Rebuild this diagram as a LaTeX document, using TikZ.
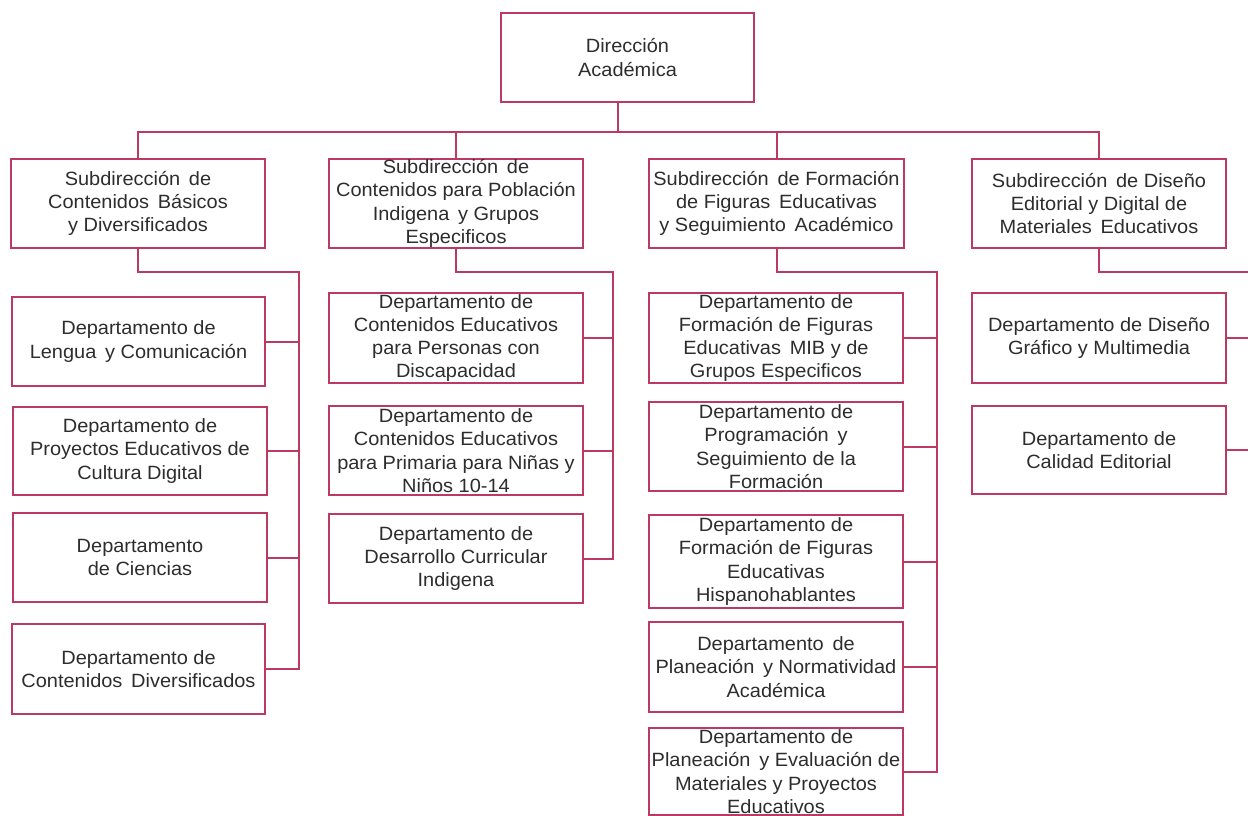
\documentclass[tikz,border=0pt]{standalone}
\usepackage{fontspec}
\setmainfont[FakeStretch=1.04]{Liberation Sans}
\definecolor{lnc}{RGB}{188,58,98}
\definecolor{txc}{RGB}{45,45,45}
\begin{document}
\begin{tikzpicture}[x=1pt,y=-1pt,
  box/.style={draw=lnc,line width=2pt,fill=white,rectangle,inner sep=0pt,
    minimum width=254pt,minimum height=89pt,align=center,text=txc,
    font=\fontsize{19.2}{23.3}\selectfont},
  conn/.style={draw=lnc,line width=2pt}]
\useasboundingbox (0,0) rectangle (1248,816);
\fill[white] (0,0) rectangle (1248,816);

% top
\node[box,minimum width=253pt] (top) at (627.5,57.5) {Dirección\\Académica};

% subdirecciones
\node[box] (s1) at (138,203.5) {Subdirección\, de\\Contenidos\, Básicos\\y Diversificados};
\node[box] (s2) at (456,203.5) {Subdirección\, de\\Contenidos para Población\\Indigena\, y Grupos\\Especificos};
\node[box,minimum width=255pt] (s3) at (776.5,203.5) {Subdirección\, de Formación\\de Figuras\, Educativas\\y Seguimiento\, Académico};
\node[box] (s4) at (1099,203.5) {Subdirección\, de Diseño\\Editorial y Digital de\\Materiales\, Educativos};

% column 1
\node[box,minimum width=253pt] (L1) at (138.5,341.5) {Departamento de\\Lengua\, y Comunicación};
\node[box,minimum height=88pt] (L2) at (140,451) {Departamento de\\Proyectos Educativos de\\Cultura Digital};
\node[box] (L3) at (140,557.5) {Departamento\\de Ciencias};
\node[box,minimum width=253pt,minimum height=90pt] (L4) at (138.5,669) {Departamento de\\Contenidos\, Diversificados};

% column 2
\node[box,minimum height=90pt] (M1) at (456,338) {Departamento de\\Contenidos Educativos\\para Personas con\\Discapacidad};
\node[box] (M2) at (456,450.5) {Departamento de\\Contenidos Educativos\\para Primaria para Niñas y\\Niños 10-14};
\node[box] (M3) at (456,558.5) {Departamento de\\Desarrollo Curricular\\Indigena};

% column 3
\node[box,minimum height=90pt] (R1) at (776,338) {Departamento de\\Formación de Figuras\\Educativas\, MIB y de\\Grupos Especificos};
\node[box] (R2) at (776,446.5) {Departamento de\\Programación\, y\\Seguimiento de la\\Formación};
\node[box,minimum height=93pt] (R3) at (776,561.5) {Departamento de\\Formación de Figuras\\Educativas\\Hispanohablantes};
\node[box,minimum height=90pt] (R4) at (776,667) {Departamento\, de\\Planeación\, y Normatividad\\Académica};
\node[box,minimum height=87pt] (R5) at (776,771.5) {Departamento de\\Planeación\, y Evaluación de\\Materiales y Proyectos\\Educativos};

% column 4
\node[box,minimum height=90pt] (D1) at (1099,338) {Departamento de Diseño\\Gráfico y Multimedia};
\node[box,minimum height=88pt] (D2) at (1099,450) {Departamento de\\Calidad Editorial};

% coordinates
\coordinate (tb) at (618,102);
\coordinate (bus) at (618,132);
\coordinate (c1) at (299,272);
\coordinate (c2) at (613,272);
\coordinate (c3) at (937,272);
\coordinate (c4) at (1248,272);

% top connectors
\draw[conn] (tb) -- (bus);
\draw[conn] (bus) -| (s1.north);
\draw[conn] (bus) -| (s2.north);
\draw[conn] (bus) -| (s3.north);
\draw[conn] (bus) -| (s4.north);

% column 1
\draw[conn] (s1.south) |- (c1) |- (L4.east);
\foreach \n in {L1,L2,L3} \draw[conn] (\n.east) -- (\n.east -| c1);
% column 2
\draw[conn] (s2.south) |- (c2) |- (M3.east);
\foreach \n in {M1,M2} \draw[conn] (\n.east) -- (\n.east -| c2);
% column 3
\draw[conn] (s3.south) |- (c3) |- (R5.east);
\foreach \n in {R1,R2,R3,R4} \draw[conn] (\n.east) -- (\n.east -| c3);
% column 4
\draw[conn] (s4.south) |- (c4);
\foreach \n in {D1,D2} \draw[conn] (\n.east) -- (\n.east -| c4);
\end{tikzpicture}
\end{document}
